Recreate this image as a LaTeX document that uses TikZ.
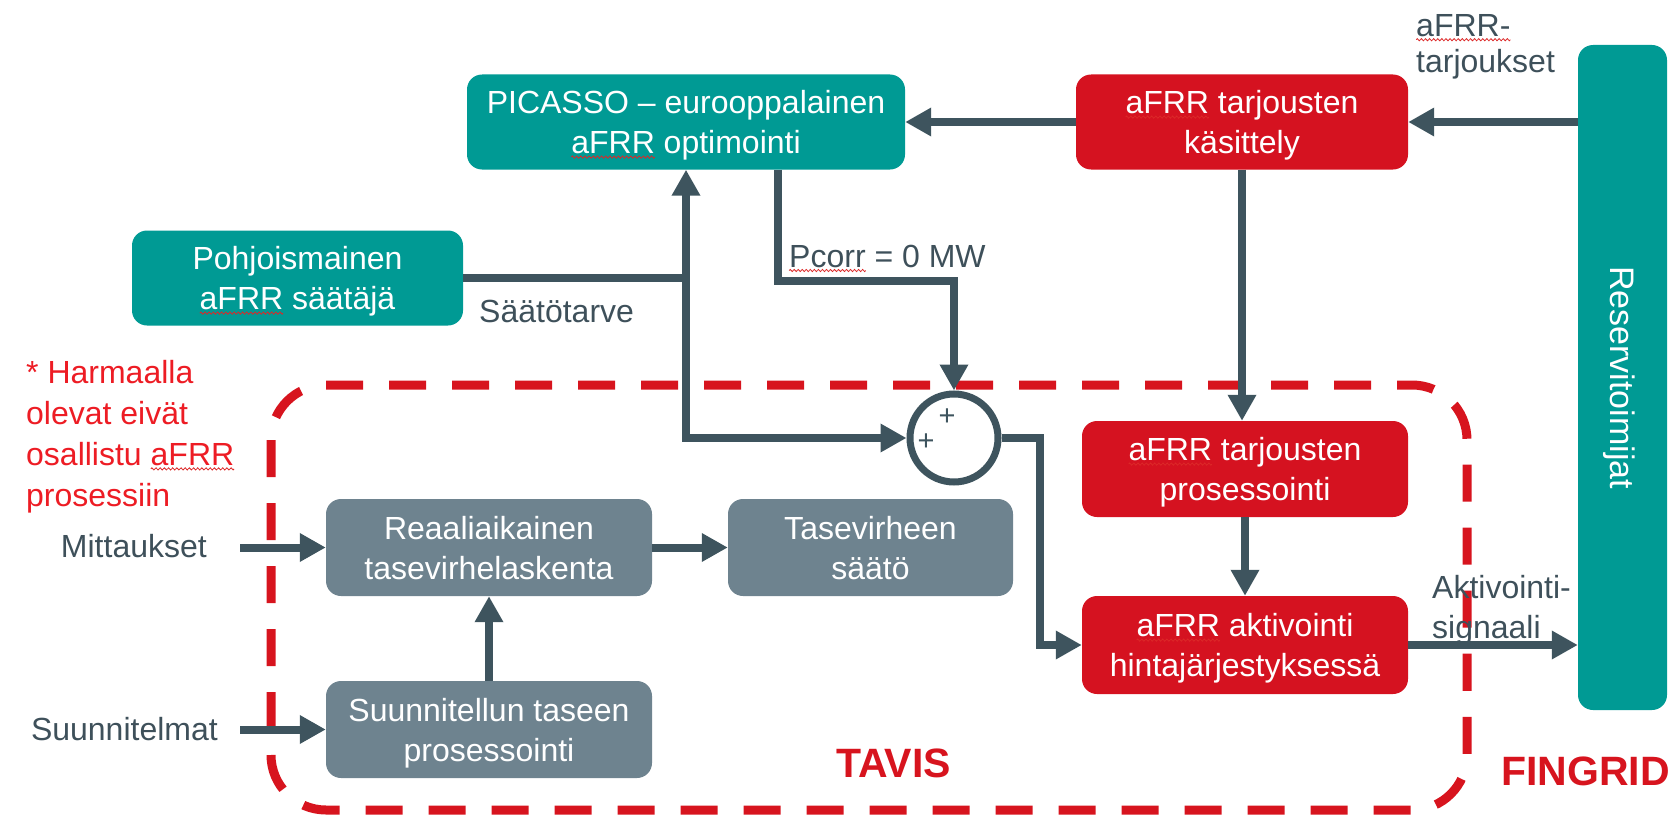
\documentclass[tikz,border=0pt]{standalone}
\usepackage{fontspec}
\setmainfont{Liberation Sans}
\usetikzlibrary{arrows.meta,calc}
\definecolor{fgteal}{RGB}{0,154,148}
\definecolor{fgred}{RGB}{213,18,32}
\definecolor{fggray}{RGB}{110,131,143}
\definecolor{arrc}{RGB}{62,84,94}
\definecolor{lblc}{RGB}{62,80,90}
\definecolor{notec}{RGB}{237,28,36}
\definecolor{dashc}{RGB}{215,20,30}
\definecolor{squig}{RGB}{220,40,40}
\newsavebox\wavebox
\newsavebox\sqtmp
\sbox\wavebox{%
\begin{pgfpicture}%
\pgfpathrectangle{\pgfpoint{0pt}{-1.5pt}}{\pgfpoint{4pt}{3pt}}\pgfusepath{use as bounding box}%
\pgfsetlinewidth{0.8pt}\pgfsetstrokecolor{squig}%
\pgfpathmoveto{\pgfpoint{0pt}{0pt}}%
\pgfpathsine{\pgfpoint{1pt}{1.1pt}}\pgfpathcosine{\pgfpoint{1pt}{-1.1pt}}%
\pgfpathsine{\pgfpoint{1pt}{-1.1pt}}\pgfpathcosine{\pgfpoint{1pt}{1.1pt}}%
\pgfusepath{stroke}%
\end{pgfpicture}}
\newcommand\sq[1]{\sbox\sqtmp{#1}\rlap{\raisebox{-5pt}[0pt][0pt]{\hbox to \wd\sqtmp{\xleaders\copy\wavebox\hfil}}}#1}
\newcommand\fsz{\fontsize{32}{40}\selectfont}
\tikzset{
  box/.style={rounded corners=15pt, align=center, text=white, inner sep=0pt, font=\fsz, text depth=0pt},
  tbox/.style={box, fill=fgteal},
  rbox/.style={box, fill=fgred},
  gbox/.style={box, fill=fggray},
  conn/.style={draw=arrc, line width=8pt},
  arr/.style={conn, -{Triangle[length=26pt,width=27pt]}},
  arrboth/.style={conn, {Triangle[length=26pt,width=27pt]}-{Triangle[length=26pt,width=27pt]}},
  lbl/.style={text=lblc, inner sep=0pt, align=left, font=\fsz},
  plus/.style={text=arrc, inner sep=0pt, font=\fontsize{29}{29}\selectfont},
  brand/.style={inner sep=0pt, text=dashc, font=\fontsize{41}{41}\selectfont\bfseries},
}
\begin{document}
\begin{tikzpicture}[x=1pt,y=-1pt]
\path[use as bounding box] (0,0) rectangle (1676,816);

% dashed TAVIS region
\draw[dashc, line width=9pt, dash pattern=on 37pt off 26pt, rounded corners=55pt] (271,385) rectangle (1467,810);

% boxes
\node[tbox, minimum width=438pt, minimum height=95pt] (picasso) at (686,122) {PICASSO – eurooppalainen\\\sq{aFRR} optimointi};
\node[rbox, minimum width=332pt, minimum height=95pt] (kasittely) at (1242,122) {\sq{aFRR} tarjousten\\käsittely};
\node[tbox, minimum width=331pt, minimum height=95pt] (pohj) at (297.5,278) {Pohjoismainen\\\sq{aFRR} säätäjä};
\node[tbox, rotate=-90, minimum width=665pt, minimum height=89pt, font=\fontsize{34}{40}\selectfont] (reserv) at (1622.5,377.5) {Reservitoimijat};
\node[gbox, minimum width=326pt, minimum height=97pt] (reaali) at (489,547.5) {Reaaliaikainen\\tasevirhelaskenta};
\node[gbox, minimum width=285pt, minimum height=97pt] (tase) at (870.5,547.5) {Tasevirheen\\säätö};
\node[gbox, minimum width=326pt, minimum height=97pt] (suunn) at (489,729.5) {Suunnitellun taseen\\prosessointi};
\node[rbox, minimum width=326pt, minimum height=96pt] (prosess) at (1245,469) {\sq{aFRR} tarjousten\\prosessointi};
\node[rbox, minimum width=326pt, minimum height=98pt] (aktiv) at (1245,645) {\sq{aFRR} aktivointi\\hintajärjestyksessä};

% summing junction
\node[draw=arrc, line width=7pt, circle, minimum size=88pt, inner sep=0pt] (sum) at (954,438) {};
\node[plus] (p1) at (947,417) {+};
\node[plus] (p2) at (926,442) {+};

% labels
\node[lbl, anchor=north west, font=\fontsize{32}{36}\selectfont] (tarj) at (1416,14) {\sq{aFRR-}\\tarjoukset};
\node[lbl, anchor=base west] (saato) at (479,322) {Säätötarve};
\node[lbl, anchor=base west] (pcorr) at (789,267) {\sq{Pcorr} = 0 MW};
\node[lbl, anchor=base east] (mitt) at (207,557) {Mittaukset};
\node[lbl, anchor=base east] (suun) at (218,740) {Suunnitelmat};
\node[lbl, anchor=north west] (akt) at (1432,575) {Aktivointi-\\signaali};
\node[lbl, anchor=north west, text=notec, font=\fontsize{32}{41}\selectfont] (note) at (26,360) {* Harmaalla\\olevat eivät\\osallistu \sq{aFRR}\\prosessiin};
\node[brand, anchor=base east] (tavis) at (951,777) {TAVIS};
\node[brand, anchor=base west] (fingrid) at (1501,785) {FINGRID};

% connectors
\coordinate (jn) at (pohj.east -| picasso.south);
\coordinate (corner) at (picasso.south |- sum.west);
\draw[arr] (kasittely.east -| reserv.south) -- (kasittely.east);
\draw[arr] (kasittely.west) -- (picasso.east);
\draw[conn] (pohj.east) -- (jn);
\draw[arrboth] (picasso.south) -- (corner) -- (sum.west);
\draw[arr] ([xshift=92pt]picasso.south) -- ++(0,111) -| (sum.north);
\draw[arr] (sum.east) -- ++(38,0) |- (aktiv.west);
\draw[arr] (kasittely.south) -- (kasittely.south |- prosess.north);
\draw[arr] (prosess.south) -- (aktiv.north);
\draw[arr] (aktiv.east) -- (aktiv.east -| reserv.south);
\draw[arr] (mitt.east |- reaali.west) ++(33,0) -- (reaali.west);
\draw[arr] (suun.east |- suunn.west) ++(22,0) -- (suunn.west);
\draw[arr] (suunn.north) -- (reaali.south);
\draw[arr] (reaali.east) -- (tase.west);
\end{tikzpicture}
\end{document}
